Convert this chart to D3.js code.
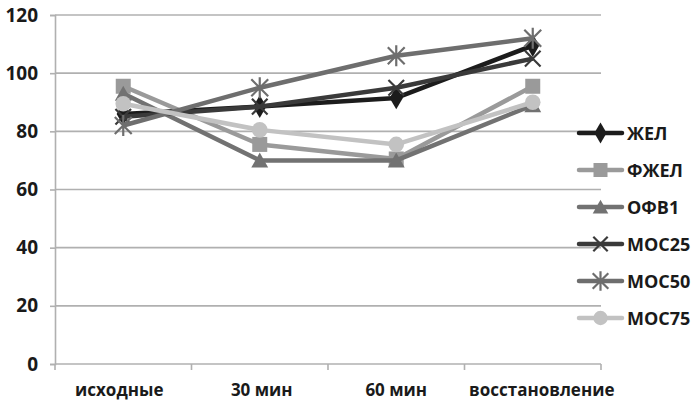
<!DOCTYPE html>
<html>
<head>
<meta charset="utf-8">
<script src="https://cdn.jsdelivr.net/npm/d3@7"></script>
<style>
  html, body { margin: 0; padding: 0; background: #fff; }
  svg text { font-family: "Open Sans", "DejaVu Sans", sans-serif; font-weight: 700; fill: #1a1a1a; }
</style>
</head>
<body>
<svg id="chart" width="693" height="401"></svg>
<script>
// Stages of the test
const categories = ["исходные", "30 мин", "60 мин", "восстановление"];
const yTicks = [0, 20, 40, 60, 80, 100, 120];

// Spirometry indicators, % of predicted
const zhel  = [86, 88.5, 91.5, 109.5];
const fzhel = [95.5, 75.5, 70.5, 95.5];
const ofv1  = [93, 70, 70, 89];
const mos25 = [85, 88.5, 95, 105];
const mos50 = [82, 95, 106, 112];
const mos75 = [89.5, 80.5, 75.5, 90];

const seriesNames = ["ЖЕЛ", "ФЖЕЛ", "ОФВ1", "МОС25", "МОС50", "МОС75"];
const seriesValues = [zhel, fzhel, ofv1, mos25, mos50, mos75];
const seriesColors = ["#1c1c1c", "#9a9a9a", "#727272", "#3a3a3a", "#6e6e6e", "#c2c2c2"];
const seriesMarkers = ["diamond", "square", "triangle", "cross", "star", "circle"];

const svg = d3.select("#chart");
const plotLeft = 55, plotRight = 601, plotTop = 15, plotBottom = 364;

const x = d3.scaleBand().domain(categories).range([plotLeft, plotRight]);
const y = d3.scaleLinear().domain([0, 120]).range([plotBottom, plotTop]);

// Horizontal gridlines
svg.append("g").selectAll("line").data(yTicks.filter(d => d > 0)).join("line")
  .attr("x1", plotLeft).attr("x2", plotRight)
  .attr("y1", d => y(d)).attr("y2", d => y(d))
  .attr("stroke", "#b0b0b0").attr("stroke-width", 1.6);

// Y axis
const yAxis = svg.append("g").attr("transform", `translate(${plotLeft},0)`)
  .call(d3.axisLeft(y).tickValues(yTicks).tickSize(5).tickPadding(12));
yAxis.select(".domain").attr("stroke", "#b0b0b0").attr("stroke-width", 1.6);
yAxis.selectAll(".tick line").attr("stroke", "#b0b0b0").attr("stroke-width", 1.6);
yAxis.selectAll("text").style("font-size", "19px").attr("fill", "#1a1a1a");

// X axis with ticks on band boundaries
const xAxisG = svg.append("g");
xAxisG.append("line").attr("x1", plotLeft).attr("x2", plotRight).attr("y1", plotBottom).attr("y2", plotBottom)
  .attr("stroke", "#b0b0b0").attr("stroke-width", 1.6);
const bounds = categories.map(c => x(c)).concat([x(categories[categories.length - 1]) + x.bandwidth()]);
xAxisG.selectAll(".bt").data(bounds).join("line").attr("class", "bt")
  .attr("x1", d => d).attr("x2", d => d).attr("y1", plotBottom).attr("y2", plotBottom + 6)
  .attr("stroke", "#b0b0b0").attr("stroke-width", 1.6);
const labelShift = [-4, 2, 0, 9];
xAxisG.selectAll("text").data(categories).join("text")
  .attr("x", (d, i) => x(d) + x.bandwidth() / 2 + labelShift[i]).attr("y", plotBottom + 32)
  .attr("text-anchor", "middle").style("font-size", "17px").text(d => d);

// Marker drawing
function drawMarker(g, type, color, size) {
  const s = size;
  if (type === "diamond") {
    g.append("path").attr("d", d3.symbol(d3.symbolDiamond, s * s * 0.9)()).attr("fill", color);
  } else if (type === "square") {
    g.append("rect").attr("x", -s / 2 - 1).attr("y", -s / 2 - 1).attr("width", s + 2).attr("height", s + 2).attr("fill", color);
  } else if (type === "triangle") {
    g.append("path").attr("d", `M0,${-s * 0.6}L${s * 0.65},${s * 0.55}L${-s * 0.65},${s * 0.55}Z`).attr("fill", color);
  } else if (type === "cross") {
    const r = s * 0.6;
    g.append("path").attr("d", `M${-r},${-r}L${r},${r}M${-r},${r}L${r},${-r}`).attr("stroke", color).attr("stroke-width", 2.2);
  } else if (type === "star") {
    const r = s * 0.65;
    g.append("path").attr("d", `M${-r},${-r}L${r},${r}M${-r},${r}L${r},${-r}M0,${-r * 1.25}L0,${r * 1.25}`).attr("stroke", color).attr("stroke-width", 2.2);
  } else if (type === "circle") {
    g.append("circle").attr("r", s * 0.6).attr("fill", color);
  }
}

const line = d3.line().x((d, i) => x(categories[i]) + x.bandwidth() / 2).y(d => y(d));

seriesValues.forEach((vals, k) => {
  const g = svg.append("g");
  g.append("path").attr("d", line(vals)).attr("fill", "none")
    .attr("stroke", seriesColors[k]).attr("stroke-width", 4.5).attr("stroke-linejoin", "round");
  vals.forEach((v, i) => {
    const mg = g.append("g").attr("transform", `translate(${x(categories[i]) + x.bandwidth() / 2},${y(v)})`);
    drawMarker(mg, seriesMarkers[k], seriesColors[k], 13);
  });
});

// Legend
const legend = svg.append("g");
seriesNames.forEach((name, k) => {
  const ly = 133 + k * 37;
  const lg = legend.append("g");
  lg.append("line").attr("x1", 579).attr("x2", 622).attr("y1", ly).attr("y2", ly)
    .attr("stroke", seriesColors[k]).attr("stroke-width", 4.5).attr("stroke-linecap", "round");
  const mg = lg.append("g").attr("transform", `translate(600.5,${ly})`);
  drawMarker(mg, seriesMarkers[k], seriesColors[k], 12);
  lg.append("text").attr("x", 627).attr("y", ly + 6.5).style("font-size", "18px").text(name);
});
</script>
</body>
</html>
